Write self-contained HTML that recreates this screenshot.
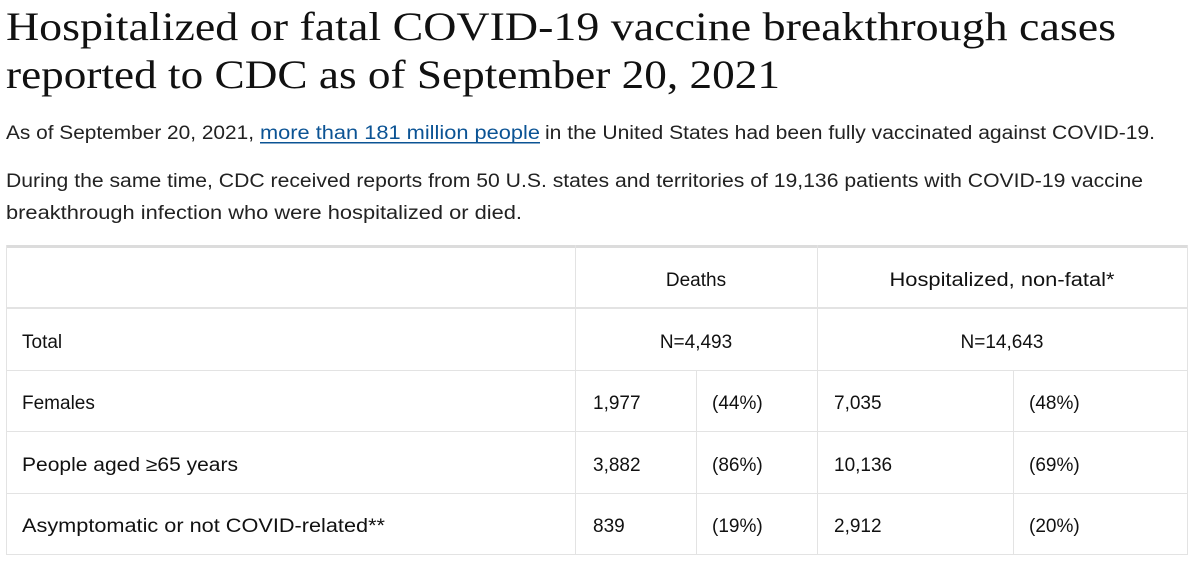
<!DOCTYPE html>
<html><head><style>
body{margin:0;background:#fff;width:1200px;height:564px;overflow:hidden}
svg text{fill:#1c1c1c}
.s{font-family:"Liberation Serif",serif;font-size:40px;fill:#111}
.b{font-family:"Liberation Sans",sans-serif;font-size:19px;fill:#222}
.t{font-family:"Liberation Sans",sans-serif;font-size:19px;fill:#111}
</style></head><body>
<svg width="1200" height="564" xmlns="http://www.w3.org/2000/svg">
<text class="s" x="6" y="40" textLength="1110" lengthAdjust="spacingAndGlyphs">Hospitalized or fatal COVID-19 vaccine breakthrough cases</text>
<text class="s" x="6" y="88" textLength="774" lengthAdjust="spacingAndGlyphs">reported to CDC as of September 20, 2021</text>
<text class="b" x="6" y="139" textLength="248" lengthAdjust="spacingAndGlyphs">As of September 20, 2021,</text>
<text class="b" x="260" y="139" textLength="280" lengthAdjust="spacingAndGlyphs" style="fill:#0b5394">more than 181 million people</text>
<rect x="260" y="142" width="280" height="1.5" fill="#0b5394"/>
<text class="b" x="545" y="139" textLength="610" lengthAdjust="spacingAndGlyphs">in the United States had been fully vaccinated against COVID-19.</text>
<text class="b" x="6" y="187" textLength="1137" lengthAdjust="spacingAndGlyphs">During the same time, CDC received reports from 50 U.S. states and territories of 19,136 patients with COVID-19 vaccine</text>
<text class="b" x="6" y="219" textLength="516" lengthAdjust="spacingAndGlyphs">breakthrough infection who were hospitalized or died.</text>
<g fill="#e3e3e3">
<rect x="6" y="245" width="1182" height="3" fill="#dcdcdc"/>
<rect x="6" y="307" width="1182" height="2"/>
<rect x="6" y="370" width="1182" height="1"/>
<rect x="6" y="431" width="1182" height="1"/>
<rect x="6" y="493" width="1182" height="1"/>
<rect x="6" y="554" width="1182" height="1"/>
<rect x="6" y="245" width="1" height="310"/>
<rect x="1187" y="245" width="1" height="310"/>
<rect x="575" y="245" width="1" height="310"/>
<rect x="817" y="245" width="1" height="310"/>
<rect x="696" y="371" width="1" height="184"/>
<rect x="1013" y="371" width="1" height="184"/>
</g>
<text class="t" x="696" y="286" text-anchor="middle">Deaths</text>
<text class="t" x="1002" y="286" text-anchor="middle" textLength="225" lengthAdjust="spacingAndGlyphs">Hospitalized, non-fatal*</text>
<text class="t" x="22" y="348">Total</text>
<text class="t" x="696" y="348" text-anchor="middle">N=4,493</text>
<text class="t" x="1002" y="348" text-anchor="middle">N=14,643</text>
<text class="t" x="22" y="409">Females</text>
<text class="t" x="593" y="409">1,977</text><text class="t" x="712" y="409">(44%)</text>
<text class="t" x="834" y="409">7,035</text><text class="t" x="1029" y="409">(48%)</text>
<text class="t" x="22" y="471" textLength="216" lengthAdjust="spacingAndGlyphs">People aged ≥65 years</text>
<text class="t" x="593" y="471">3,882</text><text class="t" x="712" y="471">(86%)</text>
<text class="t" x="834" y="471">10,136</text><text class="t" x="1029" y="471">(69%)</text>
<text class="t" x="22" y="532" textLength="363" lengthAdjust="spacingAndGlyphs">Asymptomatic or not COVID-related**</text>
<text class="t" x="593" y="532">839</text><text class="t" x="712" y="532">(19%)</text>
<text class="t" x="834" y="532">2,912</text><text class="t" x="1029" y="532">(20%)</text>
</svg>
</body></html>
